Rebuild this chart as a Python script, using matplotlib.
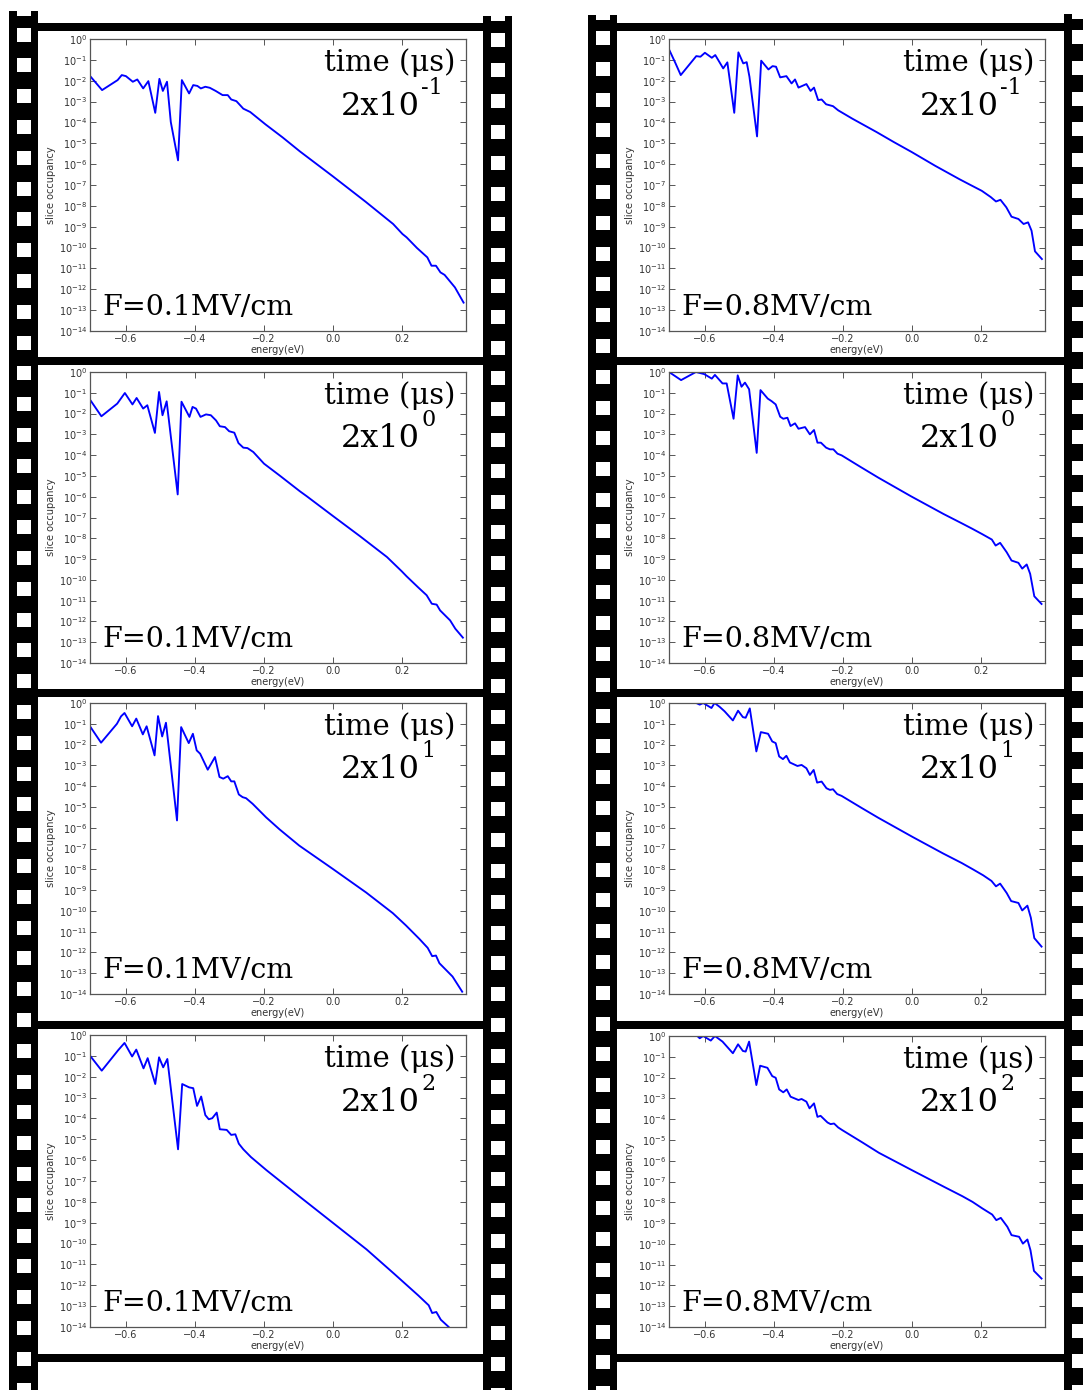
import matplotlib
matplotlib.use("Agg")
import matplotlib.pyplot as plt
from matplotlib.patches import Rectangle
from matplotlib.ticker import FixedLocator, NullLocator, LogFormatterMathtext
import numpy as np

# ---------------- data ----------------
field_labels = ["F=0.1MV/cm", "F=0.8MV/cm"]
time_title = "time (\u03bcs)"
time_mantissa = "2x10"
time_exponents = ["-1", "0", "1", "2"]
x_ticks = [-0.6, -0.4, -0.2, 0.0, 0.2]
y_decades = list(range(0, -15, -1))
x_limits = (-0.703, 0.386)

# F = 0.1 MV/cm
energy_f01_t1 = [-0.701, -0.668, -0.623, -0.611, -0.599, -0.579, -0.566, -0.549, -0.534, -0.514,
                 -0.502, -0.492, -0.480, -0.469, -0.448, -0.437, -0.416, -0.404, -0.392, -0.382,
                 -0.369, -0.356, -0.339, -0.319, -0.304, -0.294, -0.279, -0.259, -0.239, -0.195,
                 -0.145, -0.095, 0.0, 0.095, 0.175, 0.202, 0.214, 0.244, 0.274, 0.286,
                 0.299, 0.312, 0.324, 0.354, 0.379]
logocc_f01_t1 = [-1.81, -2.45, -1.97, -1.73, -1.78, -2.05, -1.94, -2.37, -2.02, -3.54,
                 -1.91, -2.49, -2.05, -3.98, -5.82, -1.97, -2.61, -2.21, -2.25, -2.37,
                 -2.29, -2.34, -2.49, -2.69, -2.69, -2.90, -2.98, -3.34, -3.50, -4.09,
                 -4.72, -5.39, -6.58, -7.80, -8.87, -9.35, -9.51, -10.02, -10.47, -10.87,
                 -10.87, -11.19, -11.31, -11.91, -12.64]

energy_f01_t2 = [-0.703, -0.670, -0.624, -0.602, -0.580, -0.568, -0.549, -0.537, -0.515, -0.503,
                 -0.493, -0.481, -0.449, -0.438, -0.415, -0.406, -0.396, -0.383, -0.367, -0.353,
                 -0.338, -0.327, -0.312, -0.300, -0.285, -0.273, -0.259, -0.247, -0.230, -0.199,
                 -0.153, -0.095, -0.075, 0.0, 0.079, 0.157, 0.200, 0.214, 0.248, 0.272,
                 0.287, 0.301, 0.311, 0.340, 0.355, 0.377]
logocc_f01_t2 = [-1.33, -2.13, -1.52, -1.01, -1.56, -1.25, -1.76, -1.60, -2.93, -0.96,
                 -2.08, -1.41, -5.89, -1.43, -2.16, -1.68, -1.76, -2.16, -2.04, -2.08,
                 -2.33, -2.61, -2.65, -2.85, -2.92, -3.42, -3.64, -3.66, -3.85, -4.41,
                 -4.99, -5.74, -5.98, -6.92, -7.90, -8.90, -9.59, -9.83, -10.37, -10.74,
                 -11.15, -11.19, -11.47, -11.95, -12.35, -12.78]

energy_f01_t3 = [-0.703, -0.671, -0.625, -0.613, -0.603, -0.581, -0.569, -0.550, -0.539, -0.516,
                 -0.506, -0.494, -0.483, -0.451, -0.439, -0.417, -0.405, -0.394, -0.384, -0.362,
                 -0.341, -0.328, -0.317, -0.304, -0.294, -0.285, -0.272, -0.261, -0.251, -0.232,
                 -0.193, -0.154, -0.097, 0.0, 0.097, 0.174, 0.212, 0.251, 0.275, 0.288,
                 0.299, 0.309, 0.347, 0.375]
logocc_f01_t3 = [-1.12, -1.91, -1.00, -0.64, -0.48, -1.12, -0.75, -1.51, -1.12, -2.52,
                 -0.63, -1.61, -0.95, -5.65, -1.16, -1.93, -1.48, -2.28, -2.44, -3.21,
                 -2.60, -3.56, -3.64, -3.52, -3.77, -3.77, -4.40, -4.53, -4.58, -4.85,
                 -5.50, -6.08, -6.86, -7.98, -9.12, -10.11, -10.70, -11.35, -11.78, -12.18,
                 -12.15, -12.52, -13.16, -13.89]

energy_f01_t4 = [-0.703, -0.669, -0.621, -0.603, -0.581, -0.569, -0.548, -0.536, -0.514, -0.503,
                 -0.491, -0.479, -0.448, -0.436, -0.416, -0.404, -0.393, -0.381, -0.369, -0.359,
                 -0.349, -0.336, -0.327, -0.307, -0.294, -0.282, -0.272, -0.259, -0.237, -0.192,
                 -0.142, -0.092, 0.0, 0.098, 0.178, 0.213, 0.248, 0.278, 0.288, 0.300,
                 0.313, 0.336, 0.345]
logocc_f01_t4 = [-0.99, -1.71, -0.72, -0.38, -1.03, -0.70, -1.60, -1.11, -2.35, -1.07,
                 -1.55, -1.15, -5.48, -2.35, -2.51, -2.55, -3.40, -2.95, -3.84, -4.04,
                 -3.99, -3.72, -4.52, -4.55, -4.79, -4.76, -5.21, -5.48, -5.85, -6.48,
                 -7.14, -7.80, -9.00, -10.28, -11.45, -11.97, -12.49, -12.96, -13.33, -13.28,
                 -13.65, -14.00, -14.20]

# F = 0.8 MV/cm
energy_f08_t1 = [-0.702, -0.684, -0.669, -0.624, -0.612, -0.599, -0.579, -0.569, -0.546, -0.534,
                 -0.514, -0.502, -0.488, -0.478, -0.470, -0.448, -0.436, -0.415, -0.403, -0.393,
                 -0.381, -0.363, -0.348, -0.338, -0.328, -0.305, -0.293, -0.283, -0.271, -0.261,
                 -0.248, -0.228, -0.213, -0.172, -0.102, -0.052, 0.0, 0.068, 0.138, 0.168,
                 0.203, 0.229, 0.244, 0.257, 0.274, 0.289, 0.309, 0.324, 0.337, 0.347,
                 0.357, 0.377]
logocc_f08_t1 = [-0.53, -1.17, -1.73, -0.82, -0.85, -0.66, -0.90, -0.77, -1.41, -1.12,
                 -3.54, -0.64, -1.17, -1.11, -1.81, -4.67, -1.04, -1.46, -1.30, -1.33,
                 -1.84, -1.78, -2.13, -1.94, -2.33, -2.16, -2.49, -2.33, -2.93, -2.90,
                 -3.13, -3.22, -3.42, -3.82, -4.46, -4.94, -5.42, -6.08, -6.72, -6.98,
                 -7.28, -7.58, -7.79, -7.71, -8.07, -8.52, -8.63, -8.87, -8.79, -9.19,
                 -10.18, -10.55]

energy_f08_t2 = [-0.703, -0.668, -0.625, -0.601, -0.579, -0.570, -0.548, -0.536, -0.516, -0.504,
                 -0.493, -0.483, -0.471, -0.449, -0.438, -0.417, -0.406, -0.394, -0.381, -0.372,
                 -0.360, -0.351, -0.338, -0.328, -0.309, -0.295, -0.283, -0.273, -0.263, -0.248,
                 -0.237, -0.227, -0.215, -0.203, -0.150, -0.097, -0.002, 0.092, 0.145, 0.174,
                 0.203, 0.232, 0.243, 0.256, 0.275, 0.289, 0.309, 0.320, 0.333, 0.343,
                 0.355, 0.376]
logocc_f08_t2 = [0.0, -0.39, 0.0, -0.10, -0.32, -0.14, -0.55, -0.55, -2.25, -0.16,
                 -0.71, -0.51, -0.83, -3.89, -0.87, -1.28, -1.40, -1.56, -2.15, -2.25,
                 -2.20, -2.60, -2.47, -2.73, -2.65, -3.00, -2.79, -3.40, -3.40, -3.64,
                 -3.72, -3.72, -3.93, -4.01, -4.55, -5.08, -5.98, -6.83, -7.28, -7.53,
                 -7.79, -8.06, -8.35, -8.22, -8.67, -9.07, -9.18, -9.46, -9.26, -9.71,
                 -10.79, -11.16]

energy_f08_t3 = [-0.703, -0.624, -0.614, -0.604, -0.580, -0.571, -0.556, -0.542, -0.518, -0.503,
                 -0.489, -0.481, -0.469, -0.450, -0.437, -0.416, -0.404, -0.394, -0.384, -0.373,
                 -0.363, -0.353, -0.331, -0.319, -0.305, -0.295, -0.284, -0.274, -0.261, -0.247,
                 -0.237, -0.228, -0.216, -0.203, -0.145, -0.097, 0.002, 0.091, 0.145, 0.178,
                 0.207, 0.231, 0.244, 0.256, 0.275, 0.288, 0.309, 0.320, 0.335, 0.345,
                 0.355, 0.376]
logocc_f08_t3 = [0.0, 0.0, -0.08, 0.0, -0.24, 0.0, -0.19, -0.40, -0.84, -0.37,
                 -0.68, -0.71, -0.26, -2.33, -1.40, -1.48, -1.85, -1.93, -2.57, -2.70,
                 -2.54, -2.86, -3.03, -2.98, -3.14, -3.46, -3.22, -3.83, -3.78, -4.10,
                 -4.18, -4.15, -4.38, -4.47, -5.05, -5.52, -6.44, -7.24, -7.70, -8.01,
                 -8.29, -8.56, -8.82, -8.69, -9.14, -9.53, -9.62, -9.98, -9.75, -10.33,
                 -11.31, -11.72]

energy_f08_t4 = [-0.703, -0.621, -0.614, -0.604, -0.582, -0.570, -0.548, -0.518, -0.503, -0.489,
                 -0.481, -0.471, -0.450, -0.439, -0.418, -0.404, -0.394, -0.384, -0.372, -0.362,
                 -0.351, -0.328, -0.319, -0.305, -0.296, -0.283, -0.273, -0.264, -0.244, -0.235,
                 -0.225, -0.213, -0.201, -0.143, -0.095, 0.0, 0.094, 0.147, 0.176, 0.205,
                 0.233, 0.245, 0.258, 0.277, 0.289, 0.311, 0.322, 0.335, 0.344, 0.354,
                 0.376]
logocc_f08_t4 = [0.0, 0.0, -0.11, 0.0, -0.22, 0.0, -0.27, -0.83, -0.40, -0.72,
                 -0.75, -0.27, -2.36, -1.43, -1.53, -1.93, -2.01, -2.57, -2.71, -2.57,
                 -2.92, -3.08, -3.03, -3.16, -3.48, -3.24, -3.89, -3.84, -4.16, -4.24,
                 -4.21, -4.40, -4.53, -5.12, -5.62, -6.45, -7.26, -7.71, -7.98, -8.30,
                 -8.59, -8.86, -8.75, -9.18, -9.58, -9.66, -9.99, -9.79, -10.31, -11.30,
                 -11.67]

curves = [
    [(energy_f01_t1, logocc_f01_t1), (energy_f08_t1, logocc_f08_t1)],
    [(energy_f01_t2, logocc_f01_t2), (energy_f08_t2, logocc_f08_t2)],
    [(energy_f01_t3, logocc_f01_t3), (energy_f08_t3, logocc_f08_t3)],
    [(energy_f01_t4, logocc_f01_t4), (energy_f08_t4, logocc_f08_t4)],
]

# ---------------- layout (pixels) ----------------
W, H = 1083, 1390
fig = plt.figure(figsize=(W / 100, H / 100), dpi=100)
fig.patch.set_facecolor("white")

bg = fig.add_axes([0, 0, 1, 1])
bg.set_xlim(0, W)
bg.set_ylim(H, 0)
bg.axis("off")

RAIL_W = 29
HOLE_W = 14
HOLE_H = 14
PITCH = 30.8
# (rail left x, rail top y, first hole y)
rails = [(9, 11, 27.5), (483, 16, 32.5), (588, 15, 31.0), (1064, 14, 30.0)]
for rx, rtop, hy0 in rails:
    bg.add_patch(Rectangle((rx, rtop), RAIL_W, H - rtop + 10, facecolor="black", edgecolor="none"))
    bg.add_patch(Rectangle((rx + 7.5, rtop), HOLE_W, 4.5, facecolor="white", edgecolor="none"))
    y = hy0
    while y < H + 5:
        bg.add_patch(Rectangle((rx + 7.5, y), HOLE_W, HOLE_H, facecolor="white", edgecolor="none"))
        y += PITCH

bar_ys = [23, 357, 689, 1021, 1354]
for (xa, xb) in [(38, 483), (617, 1064)]:
    for by in bar_ys:
        bg.add_patch(Rectangle((xa, by), xb - xa, 8, facecolor="black", edgecolor="none"))

# axes boxes: (x0, x1, y0, y1) in pixels, rows = time, cols = field
boxes = [
    [(90, 466, 39, 331), (669, 1045, 39, 331)],
    [(90, 466, 372, 663), (669, 1045, 372, 663)],
    [(90, 466, 703, 994), (669, 1045, 703, 994)],
    [(90, 466, 1035, 1327), (669, 1045, 1036, 1327)],
]

serif = "DejaVu Serif"
for r in range(4):
    for c in range(2):
        x0, x1, y0, y1 = boxes[r][c]
        ax = fig.add_axes([x0 / W, 1 - y1 / H, (x1 - x0) / W, (y1 - y0) / H])
        ax.set_facecolor("white")
        ex, ly = curves[r][c]
        ax.plot(ex, 10.0 ** np.array(ly), color="#0000ff", lw=1.35)
        ax.set_yscale("log")
        ax.set_ylim(1e-14, 1.0)
        ax.set_xlim(*x_limits)
        ax.yaxis.set_major_locator(FixedLocator([10.0 ** d for d in y_decades]))
        ax.yaxis.set_minor_locator(NullLocator())
        ax.yaxis.set_major_formatter(LogFormatterMathtext())
        ax.xaxis.set_major_locator(FixedLocator(x_ticks))
        ax.xaxis.set_minor_locator(NullLocator())
        ax.tick_params(direction="in", top=True, right=True, length=4, width=0.7,
                       color="#555555", labelsize=7, labelcolor="#333333")
        ax.tick_params(axis="x", pad=2)
        ax.tick_params(axis="y", pad=2)
        for s in ax.spines.values():
            s.set_color("#555555")
            s.set_linewidth(0.9)
        ax.set_xlabel("energy(eV)", fontsize=7, color="#333333", labelpad=1)
        ax.set_ylabel("slice occupancy", fontsize=7, color="#333333", labelpad=2)

        ax.text(0.972, 0.889, time_title, transform=ax.transAxes, ha="right",
                va="baseline", fontsize=21, family=serif, color="black")
        ax.text(0.877, 0.741, time_mantissa, transform=ax.transAxes, ha="right",
                va="baseline", fontsize=23, family=serif, color="black")
        ax.text(0.881, 0.741 + 0.072, time_exponents[r], transform=ax.transAxes,
                ha="left", va="baseline", fontsize=16, family=serif, color="black")
        ax.text(0.033, 0.054, field_labels[c], transform=ax.transAxes, ha="left",
                va="baseline", fontsize=20.5, family=serif, color="black")

fig.savefig("out.png", dpi=100, facecolor="white")
